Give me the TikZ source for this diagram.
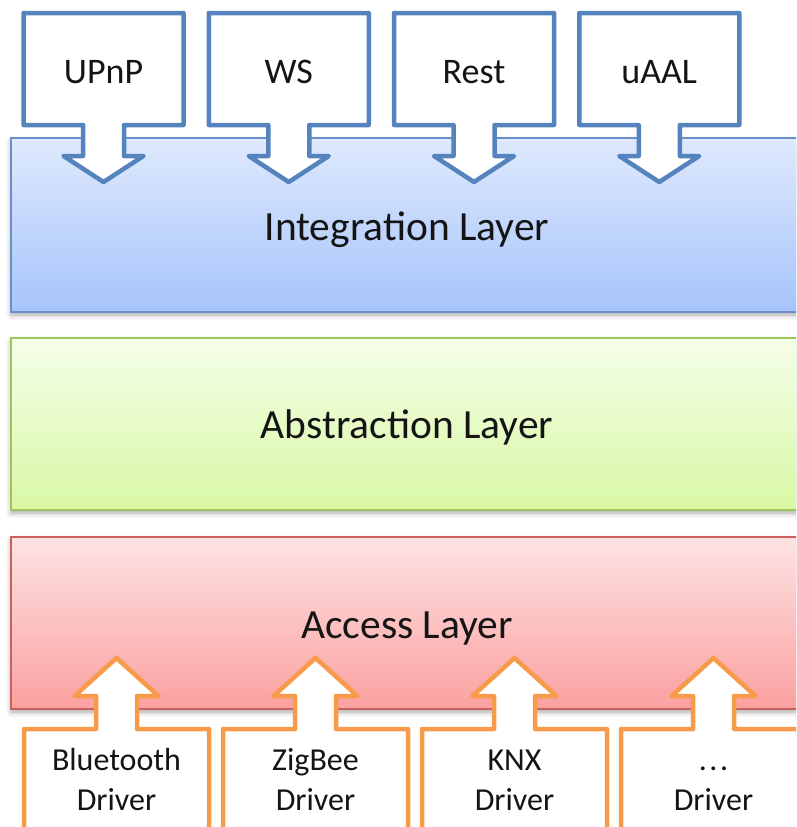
\documentclass[tikz,border=0pt]{standalone}
\usepackage{fontspec}
\setmainfont{Carlito}
\usetikzlibrary{shadows.blur}

% layer fills and outlines
\definecolor{intTop}{HTML}{DFE9FD}
\definecolor{intBot}{HTML}{A6C4FB}
\definecolor{intLine}{HTML}{6B8FC9}
\definecolor{absTop}{HTML}{F5FEE8}
\definecolor{absBot}{HTML}{D8F8A4}
\definecolor{absLine}{HTML}{9EC45E}
\definecolor{accTop}{HTML}{FDE3E3}
\definecolor{accBot}{HTML}{FBA0A0}
\definecolor{accLine}{HTML}{C8605C}
% callout outlines
\definecolor{callBlue}{HTML}{5583BE}
\definecolor{callOrange}{HTML}{F79A4A}
\definecolor{txt}{HTML}{141414}

% placeholder driver name (three separate full stops, kept out of the \foreach list)
\newcommand\otherdriver{.\kern2.5pt.\kern2.5pt.}

\tikzset{
  layer/.style={rectangle, line width=1.2pt, minimum width=792pt,
    blur shadow={shadow xshift=0pt, shadow yshift=-3pt,
      shadow blur radius=5pt, shadow opacity=35}},
  layertext/.style={text=txt, font=\fontsize{41.5}{48}\selectfont},
  downcall/.style={draw=callBlue, fill=white, line width=4.5pt, line join=round},
  upcall/.style={draw=callOrange, fill=white, line width=4.5pt, line join=round},
  toplabel/.style={text=txt, font=\fontsize{36}{40}\selectfont},
  botlabel/.style={text=txt, align=center, font=\fontsize{32}{40}\selectfont},
}

\begin{document}
\begin{tikzpicture}[x=1pt,y=-1pt]
\useasboundingbox (0,0) rectangle (796,827);
\begin{scope}
\clip (0,0) rectangle (796,827);

% the three stacked layers
\node[layer, draw=intLine, top color=intTop, bottom color=intBot,
      minimum height=174pt] (integration) at (407,225) {};
\node[layer, draw=absLine, top color=absTop, bottom color=absBot,
      minimum height=172pt] (abstraction) at (407,424) {};
\node[layer, draw=accLine, top color=accTop, bottom color=accBot,
      minimum height=172pt] (access) at (407,623) {};
\node[layertext] (intText) at (407,230) {Integration Layer};
\node[layertext] (absText) at (407,427) {Abstraction Layer};
\node[layertext] (accText) at (407,629) {Access Layer};

% protocol callouts pointing down into the integration layer
\foreach \cx/\name/\lbl in {103.5/upnp/UPnP, 288.75/ws/WS, 474/rest/Rest, 659.25/uaal/uAAL}{
  \draw[downcall] ({\cx-80},13) -- ({\cx+80},13) -- ({\cx+80},125)
     -- ({\cx+20.5},125) -- ({\cx+20.5},156) -- ({\cx+40},156)
     -- (\cx,182) -- ({\cx-40},156) -- ({\cx-20.5},156)
     -- ({\cx-20.5},125) -- ({\cx-80},125) -- cycle;
  \node[toplabel] (\name) at (\cx,72) {\lbl};
}

% driver callouts pointing up into the access layer
\foreach \cx/\name/\lbl in {116.5/bt/Bluetooth, 315.5/zb/ZigBee, 514.5/knx/KNX, 713.5/other/\otherdriver}{
  \draw[upcall] ({\cx-92.5},850) -- ({\cx-92.5},729) -- ({\cx-20.5},729)
     -- ({\cx-20.5},696) -- ({\cx-42},696) -- (\cx,658)
     -- ({\cx+42},696) -- ({\cx+20.5},696) -- ({\cx+20.5},729)
     -- ({\cx+92.5},729) -- ({\cx+92.5},850) -- cycle;
  \node[botlabel] (\name) at (\cx,782.5) {\strut\lbl\\\strut Driver};
}
\end{scope}
\end{tikzpicture}
\end{document}
